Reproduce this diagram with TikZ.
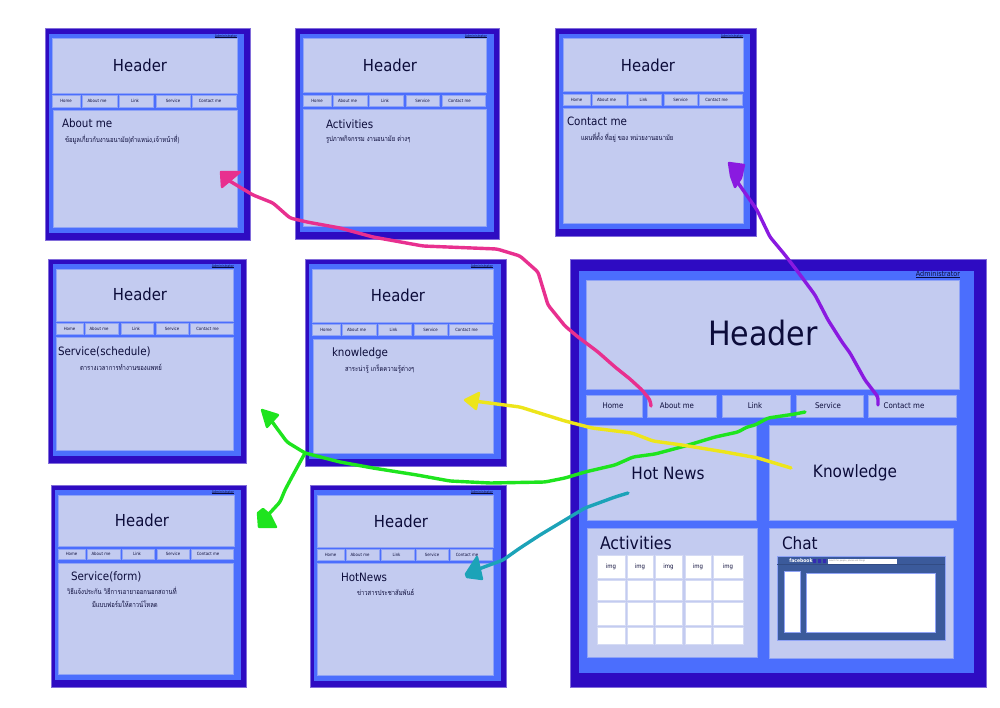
\documentclass[tikz,border=0pt]{standalone}
\usepackage{fontspec}
\setmainfont{DejaVu Sans Condensed}
\newfontfamily\thaifont[Script=Thai,FakeStretch=0.82]{Loma}
\definecolor{cOuter}{HTML}{2E0BC2}
\definecolor{cMid}{HTML}{4B6EFD}
\definecolor{cLight}{HTML}{C3CBF0}
\definecolor{cEdge}{HTML}{8FA3F6}
\definecolor{cInk}{HTML}{0C0C3A}
\definecolor{cFb}{HTML}{3B5A9B}
\definecolor{cPink}{HTML}{E8308F}
\definecolor{cPurple}{HTML}{8A1AE0}
\definecolor{cGreen}{HTML}{1EE41E}
\definecolor{cYellow}{HTML}{EDE51A}
\definecolor{cTeal}{HTML}{1CA3B8}
\tikzset{
  x=1pt,y=-1pt,
  bxbase/.style={inner sep=0pt,outer sep=0pt,text=cInk,align=center},
  outerbox/.style={bxbase,fill=cOuter,draw=cOuter!60!white,line width=.5pt},
  midbox/.style={bxbase,fill=cMid},
  lightbox/.style={bxbase,fill=cLight,draw=cEdge,line width=.5pt},
  imgbox/.style={bxbase,fill=white,draw=cLight!70!white,line width=.4pt,font=\fontsize{6}{7}\selectfont},
  fbbox/.style={bxbase,fill=cFb,draw=cEdge,line width=.4pt},
  whitebox/.style={bxbase,fill=white,draw=cEdge,line width=.4pt},
  lbl/.style={inner sep=0pt,outer sep=0pt,text=cInk},
  navtxt/.style={lbl,font=\fontsize{4.3}{5}\selectfont},
  bignavtxt/.style={lbl,font=\fontsize{7.8}{9}\selectfont},
  headtxt/.style={lbl,font=\fontsize{16.5}{20}\selectfont},
  titletxt/.style={lbl,anchor=west,font=\fontsize{11.5}{14}\selectfont},
  thaitxt/.style={lbl,anchor=west,font=\thaifont\fontsize{7.2}{10}\selectfont},
  admintxt/.style={lbl,anchor=east,font=\fontsize{3.6}{5}\selectfont},
  stroke/.style={line width=3.4pt,line cap=round,line join=round,rounded corners=2.5pt},
  headblob/.style={line width=2.4pt,line join=round},
}
\newcommand{\ulx}[2][.25pt]{\setbox0\hbox{#2}\rlap{\rule[-.6pt]{\wd0}{#1}}\box0 }
\newcommand{\bx}[7]{%
  \pgfmathsetmacro\bw{#4-#2}\pgfmathsetmacro\bh{#5-#3}%
  \pgfmathsetmacro\bcx{(#2+#4)/2}\pgfmathsetmacro\bcy{(#3+#5)/2}%
  \node[#6,minimum width=\bw pt,minimum height=\bh pt] (#1) at (\bcx,\bcy) {#7};}
% box list: x1/x2/label/name/text shift
\newcommand{\navrow}[5][navtxt]{%
  \foreach \xa/\xb/\lab/\nm/\xo in {#5}{%
    \bx{#2\nm}{\xa}{#3}{\xb}{#4}{lightbox}{}%
    \node[#1,xshift=\xo pt] (#2\nm t) at (#2\nm) {\lab};}}
\begin{document}
\begin{tikzpicture}
\useasboundingbox (0,0) rectangle (1000,707);
\fill[white] (0,0) rectangle (1000,707);

% --- About me
\bx{aO}{45}{28}{250}{240}{outerbox}{}
\bx{aM}{49}{34}{244}{233}{midbox}{}
\bx{aH}{52}{38}{237}{93}{lightbox}{}
\node[headtxt] (aHt) at (140,65) {Header};
\navrow{a}{95}{107}{52/80/Home/n1/0,82/117/About me/n2/-2.5,119/153/Link/n3/-1,156/190/Service/n4/0,192/236/Contact me/n5/-4}
\bx{aC}{53}{110}{237}{227}{lightbox}{}
\node[titletxt] (aT) at (62,123) {About me};
\node[thaitxt] (aB) at (65,140) {ข้อมูลเกี่ยวกับงานอนามัย(ตำแหน่ง,เจ้าหน้าที่)};
\node[admintxt] (aA) at (237,36) {\ulx{Administrator}};

% --- Activities
\bx{bO}{295}{28}{499}{239}{outerbox}{}
\bx{bM}{300}{34}{494}{232}{midbox}{}
\bx{bH}{303}{38}{486}{92}{lightbox}{}
\node[headtxt] (bHt) at (390,65) {Header};
\navrow{b}{95}{106}{303/331/Home/n1/0,333/367/About me/n2/-2.5,369/403/Link/n3/-1,406/439/Service/n4/0,442/485/Contact me/n5/-4}
\bx{bC}{303}{109}{486}{226}{lightbox}{}
\node[titletxt] (bT) at (326,124) {Activities};
\node[thaitxt] (bB) at (326,140) {รูปภาพกิจกรรม งานอนามัย ต่างๆ};
\node[admintxt] (bA) at (487,36) {\ulx{Administrator}};

% --- Contact me
\bx{cO}{555}{28}{756}{236}{outerbox}{}
\bx{cM}{559}{34}{750}{229}{midbox}{}
\bx{cH}{563}{38}{743}{91}{lightbox}{}
\node[headtxt] (cHt) at (648,65) {Header};
\navrow{c}{94}{105}{563/590/Home/n1/0,592/626/About me/n2/-2.5,628/661/Link/n3/-1,664/697/Service/n4/0,699/742/Contact me/n5/-4}
\bx{cC}{563}{108}{743}{223}{lightbox}{}
\node[titletxt] (cT) at (567,121) {Contact me};
\node[thaitxt] (cB) at (581,138) {แผนที่ตั้ง ที่อยู่ ของ หน่วยงานอนามัย};
\node[admintxt] (cA) at (743,36) {\ulx{Administrator}};

% --- Service(schedule)
\bx{dO}{48}{259}{246}{463}{outerbox}{}
\bx{dM}{53}{264}{241}{456}{midbox}{}
\bx{dH}{56}{269}{233}{321}{lightbox}{}
\node[headtxt] (dHt) at (140,294) {Header};
\navrow{d}{323}{334}{56/83/Home/n1/0,85/118/About me/n2/-2.5,121/153/Link/n3/-1,156/188/Service/n4/0,190/233/Contact me/n5/-4}
\bx{dC}{56}{337}{233}{450}{lightbox}{}
\node[titletxt] (dT) at (58,352) {Service(schedule)};
\node[thaitxt] (dB) at (80,367) {ตารางเวลาการทำงานของแพทย์};
\node[admintxt] (dA) at (234,266) {\ulx{Administrator}};

% --- knowledge
\bx{eO}{305}{259}{506}{466}{outerbox}{}
\bx{eM}{309}{264}{501}{459}{midbox}{}
\bx{eH}{312}{269}{493}{322}{lightbox}{}
\node[headtxt] (eHt) at (398,295) {Header};
\navrow{e}{324}{335}{312/340/Home/n1/0,342/376/About me/n2/-2.5,378/411/Link/n3/-1,414/447/Service/n4/0,449/492/Contact me/n5/-4}
\bx{eC}{313}{339}{493}{453}{lightbox}{}
\node[titletxt] (eT) at (332,353) {knowledge};
\node[thaitxt] (eB) at (345,369) {สาระน่ารู้ เกร็ดความรู้ต่างๆ};
\node[admintxt] (eA) at (493,266) {\ulx{Administrator}};

% --- Service(form)
\bx{fO}{51}{485}{246}{687}{outerbox}{}
\bx{fM}{55}{490}{241}{680}{midbox}{}
\bx{fH}{58}{495}{234}{546}{lightbox}{}
\node[headtxt] (fHt) at (142,520) {Header};
\navrow{f}{549}{559}{58/85/Home/n1/0,87/120/About me/n2/-2.5,122/154/Link/n3/-1,157/189/Service/n4/0,191/233/Contact me/n5/-4}
\bx{fC}{58}{563}{233}{674}{lightbox}{}
\node[titletxt] (fT) at (71,577) {Service(form)};
\node[thaitxt] (fB) at (67,591) {วิธีแจ้งประกัน วิธีการเอายาออกนอกสถานที่};
\node[thaitxt] (fB2) at (92,604) {มีแบบฟอร์มให้ดาวน์โหลด};
\node[admintxt] (fA) at (234,492) {\ulx{Administrator}};

% --- HotNews
\bx{gO}{310}{485}{506}{687}{outerbox}{}
\bx{gM}{314}{490}{501}{681}{midbox}{}
\bx{gH}{317}{495}{493}{547}{lightbox}{}
\node[headtxt] (gHt) at (401,521) {Header};
\navrow{g}{549}{560}{317/344/Home/n1/0,346/379/About me/n2/-2.5,381/414/Link/n3/-1,416/448/Service/n4/0,450/492/Contact me/n5/-4}
\bx{gC}{317}{563}{493}{675}{lightbox}{}
\node[titletxt] (gT) at (341,577) {HotNews};
\node[thaitxt] (gB) at (357,592) {ข่าวสารประชาสัมพันธ์};
\node[admintxt] (gA) at (493,492) {\ulx{Administrator}};

% --- Main page
\bx{mO}{570}{259}{986}{687}{outerbox}{}
\bx{mM}{579}{271}{974}{673}{midbox}{}
\bx{mH}{586}{280}{959}{389}{lightbox}{}
\node[lbl,font=\fontsize{33.5}{38}\selectfont] (mHt) at (763,333) {Header};
\node[lbl,anchor=east,font=\fontsize{7.2}{9}\selectfont] (mA) at (960,274) {\ulx[.4pt]{Administrator}};
\navrow[bignavtxt]{m}{395}{417}{586/642/Home/n1/-1,647/716/About me/n2/-4.5,722/790/Link/n3/-1,796/863/Service/n4/-1.5,868/956/Contact me/n5/-8}
\bx{mHN}{587}{425}{756}{520}{lightbox}{}
\bx{mKN}{769}{425}{956}{520}{lightbox}{}
\node[lbl,font=\fontsize{17}{20}\selectfont] (mHNt) at (668,473) {Hot News};
\node[lbl,font=\fontsize{17}{20}\selectfont] (mKNt) at (855,473) {Knowledge};
\bx{mAC}{587}{528}{757}{657}{lightbox}{}
\bx{mCH}{769}{528}{953}{658}{lightbox}{}
\node[titletxt,font=\fontsize{17.5}{20}\selectfont] (mACt) at (600,543) {Activities};
\node[titletxt,font=\fontsize{17}{20}\selectfont] (mCHt) at (782,543) {Chat};
\foreach \ya/\yb/\r/\t in {555/578/1/img,580/600/2/,602/625/3/,627/644/4/}{
  \foreach \xa/\xb/\c in {597/625/1,627/653/2,655/682/3,685/711/4,713/743/5}{
    \bx{im\r\c}{\xa}{\ya}{\xb}{\yb}{imgbox}{\t}
  }
}
\bx{fb}{777}{556}{945}{640}{fbbox}{}
\draw[cFb!85!black,line width=.4pt] (fb.west |- 0,564) -- (fb.east |- 0,564);
\node[lbl,text=white,font=\bfseries\fontsize{5}{6}\selectfont] (fbt) at (801,561) {facebook};
\fill[cOuter!60!cFb] (813,559) rectangle (816,563) (818,559) rectangle (821,563) (823,559) rectangle (826,563);
\bx{fbs}{828}{559}{897}{563.5}{bxbase,fill=white}{}
\node[lbl,anchor=west,text=gray,font=\fontsize{2.2}{3}\selectfont] (fbst) at (829,561.2) {Search for people, places and things};
\bx{fbl}{784}{571}{800}{632}{whitebox}{}
\bx{fbm}{806}{573}{935}{632}{whitebox}{}

% --- Free-hand strokes
\coordinate (pinkS) at (651,406);
\coordinate (pinkE) at (228,180);
\draw[stroke,cPink] (pinkS) -- (650,400) -- (642,390) -- (630,379) -- (615,367) -- (598,352) -- (578,337) -- (565,326) -- (548,305) -- (538,272) -- (520,256) -- (497,249) -- (423,246) -- (373,237) -- (340,228) -- (307,222) -- (290,218) -- (273,203) -- (253,195) -- (pinkE);
\filldraw[cPink,headblob] (221,172) -- (240,172) -- (222,187) -- cycle;

\coordinate (purpS) at (878,405);
\coordinate (purpE) at (736,180);
\draw[stroke,cPurple] (purpS) -- (878,397) -- (865,380) -- (850,353) -- (842,342) -- (828,320) -- (815,295) -- (798,272) -- (785,255) -- (770,237) -- (757,210) -- (purpE);
\filldraw[cPurple,headblob] (729,163) -- (744,165) -- (741,178) -- (735,187) -- (731,176) -- cycle;

\coordinate (greenS) at (805,412);
\coordinate (greenJ) at (305,453);
\coordinate (greenA) at (270,418);
\coordinate (greenB) at (268,515);
\draw[stroke,cGreen] (greenS) -- (795,414) -- (768,418) -- (755,425) -- (747,427) -- (738,432) -- (715,437) -- (685,446) -- (655,454) -- (633,457) -- (615,465) -- (585,472) -- (565,478) -- (545,482) -- (490,483) -- (450,481) -- (417,475) -- (373,468) -- (340,462) -- (greenJ) -- (287,442) -- (273,423) -- (greenA);
\draw[stroke,cGreen] (greenJ) -- (293,475) -- (285,490) -- (280,502) -- (greenB);
\filldraw[cGreen,headblob] (262,410) -- (278,415) -- (267,427) -- cycle;
\filldraw[cGreen,headblob] (258,513) -- (263,509) -- (270,515) -- (276,527) -- (259,527) -- cycle;

\coordinate (yelS) at (791,468);
\coordinate (yelE) at (474,401);
\draw[stroke,cYellow] (yelS) -- (758,458) -- (725,452) -- (682,445) -- (653,441) -- (632,433) -- (592,428) -- (565,421) -- (520,407) -- (yelE);
\filldraw[cYellow,headblob] (465,400) -- (479,393) -- (476,409) -- cycle;

\coordinate (tealS) at (628,493);
\coordinate (tealE) at (476,570);
\draw[stroke,cTeal] (tealS) -- (615,497) -- (585,508) -- (565,520) -- (540,535) -- (520,548) -- (503,560) -- (tealE);
\filldraw[cTeal,headblob] (477,557) -- (482,579) -- (467,577) -- (466,574) -- cycle;
\end{tikzpicture}
\end{document}
